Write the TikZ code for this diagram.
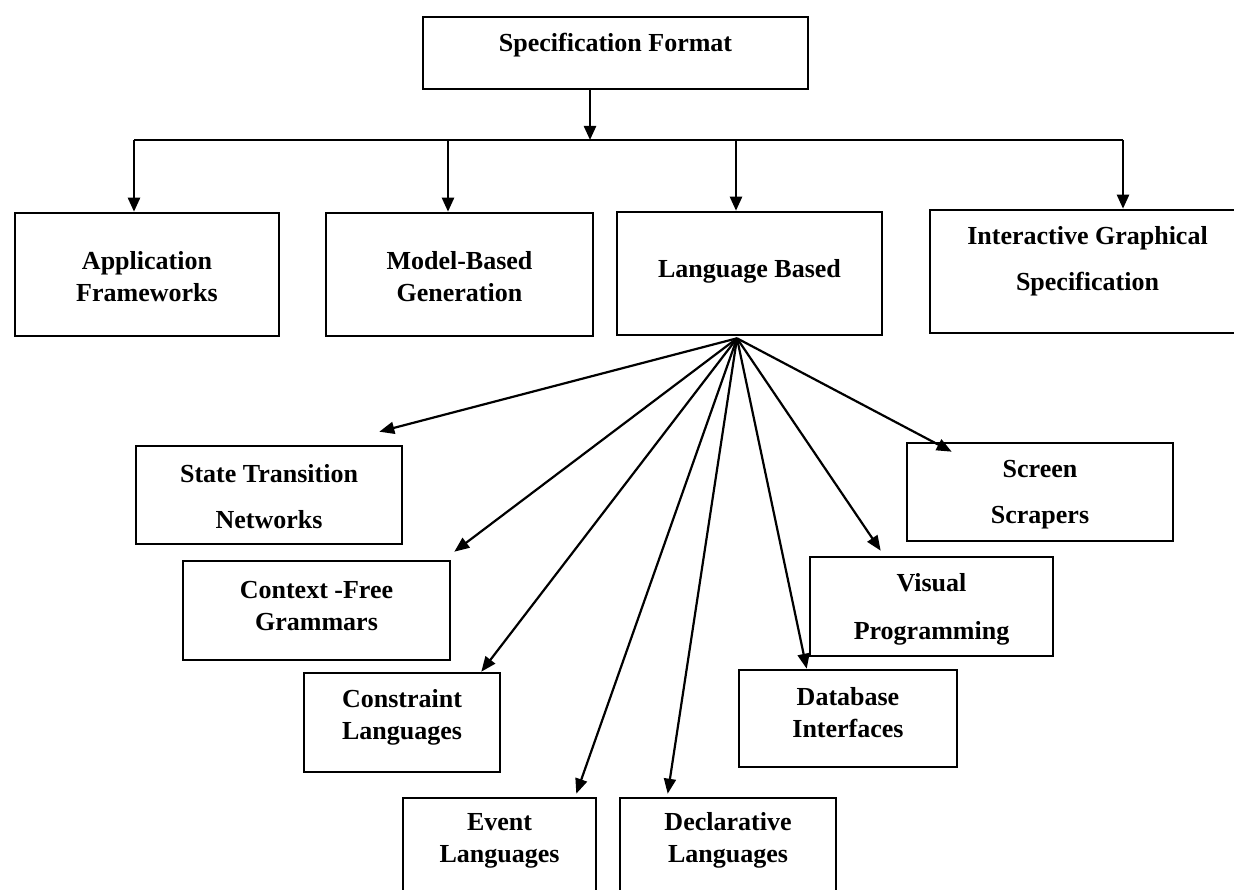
\documentclass[tikz,border=0pt]{standalone}
\usepackage{fontspec}
\setmainfont{Liberation Serif}
\usetikzlibrary{arrows.meta}
\begin{document}
\begin{tikzpicture}[x=1pt,y=-1pt,
  bx/.style={draw, line width=2.6pt, inner sep=0pt},
  txt/.style={align=center, inner sep=0pt, font=\fontsize{26pt}{32pt}\selectfont\bfseries},
  link/.style={line width=2.4pt},
  arr/.style={line width=2.4pt, -{Triangle[length=14pt,width=12pt]}},
  fanarr/.style={line width=2.2pt, -{Triangle[length=15pt,width=12pt]}}]
\clip (0,0) rectangle (1234,890);
\fill[white] (0,0) rectangle (1234,890);

% root
\node[bx, minimum width=385pt, minimum height=72pt] (spec) at (615.5,53) {};
\node[txt, yshift=8pt] (spec-t) at (spec.center) {Specification Format};

% first level
\node[bx, minimum width=264pt, minimum height=123pt] (app) at (147,274.5) {};
\node[txt, yshift=-2.5pt] (app-t) at (app.center) {Application\\Frameworks};
\node[bx, minimum width=267pt, minimum height=123pt] (model) at (459.5,274.5) {};
\node[txt, yshift=-2.5pt] (model-t) at (model.center) {Model-Based\\Generation};
\node[bx, minimum width=265pt, minimum height=123pt] (lang) at (749.5,273.5) {};
\node[txt, yshift=2.5pt] (lang-t) at (lang.center) {Language Based};
\node[bx, minimum width=310pt, minimum height=123pt] (inter) at (1085,271.5) {};
\node[txt, yshift=10.5pt] (inter-t) at (1087.5,271.5) {Interactive Graphical\\[14pt]Specification};

% language-based kinds
\node[bx, minimum width=266pt, minimum height=98pt] (stn) at (269,495) {};
\node[txt, yshift=-2pt] (stn-t) at (stn.center) {State Transition\\[14pt]Networks};
\node[bx, minimum width=267pt, minimum height=99pt] (cfg) at (316.5,610.5) {};
\node[txt, yshift=4.5pt] (cfg-t) at (cfg.center) {Context -Free\\Grammars};
\node[bx, minimum width=196pt, minimum height=99pt] (cons) at (402,722.5) {};
\node[txt, yshift=5pt] (cons-t) at (cons.center) {Constraint\\Languages};
\node[bx, minimum width=193pt, minimum height=102pt] (event) at (499.5,849) {};
\node[txt, yshift=8.5pt] (event-t) at (event.center) {Event\\Languages};
\node[bx, minimum width=216pt, minimum height=102pt] (decl) at (728,849) {};
\node[txt, yshift=8.5pt] (decl-t) at (decl.center) {Declarative\\Languages};
\node[bx, minimum width=218pt, minimum height=97pt] (db) at (848,718.5) {};
\node[txt, yshift=5.5pt] (db-t) at (db.center) {Database\\Interfaces};
\node[bx, minimum width=243pt, minimum height=99pt] (vis) at (931.5,606.5) {};
\node[txt, yshift=-2.5pt] (vis-t) at (vis.center) {Visual\\[16pt]Programming};
\node[bx, minimum width=266pt, minimum height=98pt] (scr) at (1040,492) {};
\node[txt, yshift=-3pt] (scr-t) at (scr.center) {Screen\\[14pt]Scrapers};

% distribution bus below the root
\coordinate (drop) at (590,140);
\coordinate (j1) at (134,140);
\coordinate (j2) at (448,140);
\coordinate (j3) at (736,140);
\coordinate (j4) at (1123,140);
\draw[arr] (spec.south -| drop) -- (drop);
\draw[link] (j1) -- (j4);
\draw[arr] (j1) -- (j1 |- app.north);
\draw[arr] (j2) -- (j2 |- model.north);
\draw[arr] (j3) -- (j3 |- lang.north);
\draw[arr] (j4) -- (j4 |- inter.north);

% fan out of the language-based box
\coordinate (fan) at ([xshift=-12.5pt,yshift=-2pt]lang.south);
\draw[fanarr] (fan) -- ([xshift=-24pt,yshift=13pt]stn.north east);
\draw[fanarr] (fan) -- ([xshift=3pt,yshift=8pt]cfg.north east);
\draw[fanarr] (fan) -- ([xshift=-20pt]cons.north east);
\draw[fanarr] (fan) -- ([xshift=-21pt,yshift=3pt]event.north east);
\draw[fanarr] (fan) -- ([xshift=49pt,yshift=3pt]decl.north west);
\draw[fanarr] (fan) -- ([xshift=69pt]db.north west);
\draw[fanarr] (fan) -- ([xshift=72pt,yshift=5pt]vis.north west);
\draw[fanarr] (fan) -- ([xshift=46pt,yshift=-10pt]scr.north west);
\end{tikzpicture}
\end{document}
